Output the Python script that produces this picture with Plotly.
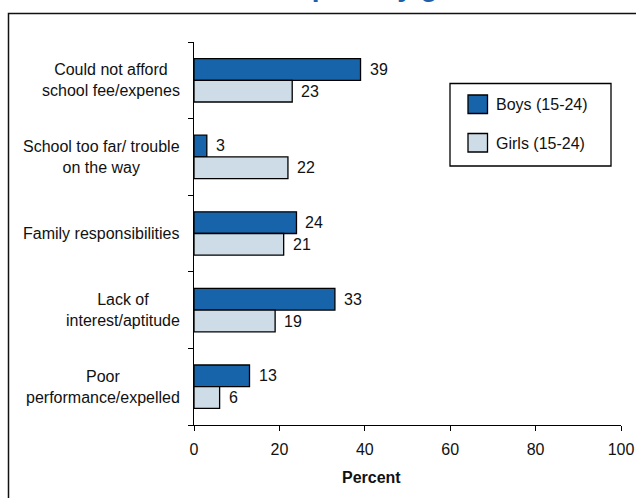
import plotly.graph_objects as go

categories = [
    "Could not afford<br>school fee/expenes",
    "School too far/ trouble<br>on the way",
    "Family responsibilities",
    "Lack of<br>interest/aptitude",
    "Poor<br>performance/expelled",
]
boys = [39, 3, 24, 33, 13]
girls = [23, 22, 21, 19, 6]
series_names = ["Boys (15-24)", "Girls (15-24)"]
x_ticks = [0, 20, 40, 60, 80, 100]
x_title = "Percent"
title_text = "Reasons for dropout by gender"

BOY_COLOR = "#1764ab"
GIRL_COLOR = "#cddce6"
FONT = "Liberation Sans, Arial, sans-serif"
FS = 16

W, H = 636, 498
L, R, T, B = 194, 621, 42, 425


def xp(px):
    return (px - L) / (R - L)


def yp(py):
    return (B - py) / (B - T)


ids = list(range(len(categories)))

fig = go.Figure()
for name, vals, col in [(series_names[0], boys, BOY_COLOR), (series_names[1], girls, GIRL_COLOR)]:
    fig.add_trace(go.Bar(
        y=ids, x=vals, orientation="h", name=name,
        marker=dict(color=col, line=dict(color="#000000", width=1.3)),
        showlegend=False,
    ))

annotations = []
# value labels
for vals, shift in [(boys, -11), (girls, 11)]:
    for i, v in enumerate(vals):
        annotations.append(dict(
            x=v, y=i, xref="x", yref="y", text=str(v), showarrow=False,
            xanchor="left", yanchor="middle", xshift=7, yshift=-shift,
            font=dict(family=FONT, size=FS, color="#111111"),
        ))
# category labels
for i, c in enumerate(categories):
    annotations.append(dict(
        x=xp(182), y=i, xref="paper", yref="y", text=c, showarrow=False,
        xanchor="right", yanchor="middle", align="center",
        font=dict(family=FONT, size=FS, color="#111111"),
    ))
# legend text
for name, cy in [(series_names[0], 104), (series_names[1], 143)]:
    annotations.append(dict(
        x=xp(494), y=yp(cy), xref="paper", yref="paper", text=name, showarrow=False,
        xanchor="left", yanchor="middle",
        font=dict(family=FONT, size=FS, color="#111111"),
    ))
# x-axis title
annotations.append(dict(
    x=xp(371), y=yp(478), xref="paper", yref="paper", text="<b>" + x_title + "</b>",
    showarrow=False, xanchor="center", yanchor="middle",
    font=dict(family=FONT, size=FS, color="#111111"),
))
# cut-off title
annotations.append(dict(
    x=xp(305), y=yp(3.5), xref="paper", yref="paper", text="<b>" + title_text + "</b>",
    showarrow=False, xanchor="center", yanchor="bottom",
    font=dict(family=FONT, size=28, color="#1f5fa8"),
))

shapes = [
    # outer frame
    dict(type="rect", xref="paper", yref="paper", x0=xp(8.5), x1=xp(660), y0=yp(13.5), y1=yp(520),
         line=dict(color="#111111", width=1.5), fillcolor="rgba(0,0,0,0)", layer="below"),
    # legend box
    dict(type="rect", xref="paper", yref="paper", x0=xp(450), x1=xp(611), y0=yp(83.5), y1=yp(166),
         line=dict(color="#000000", width=1.3), fillcolor="white"),
    dict(type="rect", xref="paper", yref="paper", x0=xp(468), x1=xp(487.5), y0=yp(95), y1=yp(113.5),
         line=dict(color="#000000", width=1.3), fillcolor=BOY_COLOR),
    dict(type="rect", xref="paper", yref="paper", x0=xp(468), x1=xp(487.5), y0=yp(133.5), y1=yp(152),
         line=dict(color="#000000", width=1.3), fillcolor=GIRL_COLOR),
]

fig.update_layout(
    width=W, height=H, autosize=False,
    margin=dict(l=L, r=W - R, t=T, b=H - B, pad=0, autoexpand=False),
    paper_bgcolor="white", plot_bgcolor="white",
    barmode="group", bargap=0.433, bargroupgap=0,
    font=dict(family=FONT, size=FS, color="#111111"),
    annotations=annotations, shapes=shapes,
    showlegend=False,
)
fig.update_xaxes(
    range=[0, 100], tickvals=x_ticks, ticks="outside", ticklen=5, tickcolor="#000000",
    showline=True, linecolor="#000000", linewidth=1.3, showgrid=False, zeroline=False,
    tickfont=dict(family=FONT, size=FS, color="#111111"), ticklabelstandoff=5,
    automargin=False,
)
fig.update_yaxes(
    type="linear", range=[4.5, -0.5], tickvals=[-0.5, 0.5, 1.5, 2.5, 3.5, 4.5],
    showticklabels=False, ticks="outside", ticklen=5, tickcolor="#000000",
    showline=True, linecolor="#000000", linewidth=1.3, showgrid=False, zeroline=False,
    automargin=False,
)

fig.write_html("out.html", config={"responsive": False})
